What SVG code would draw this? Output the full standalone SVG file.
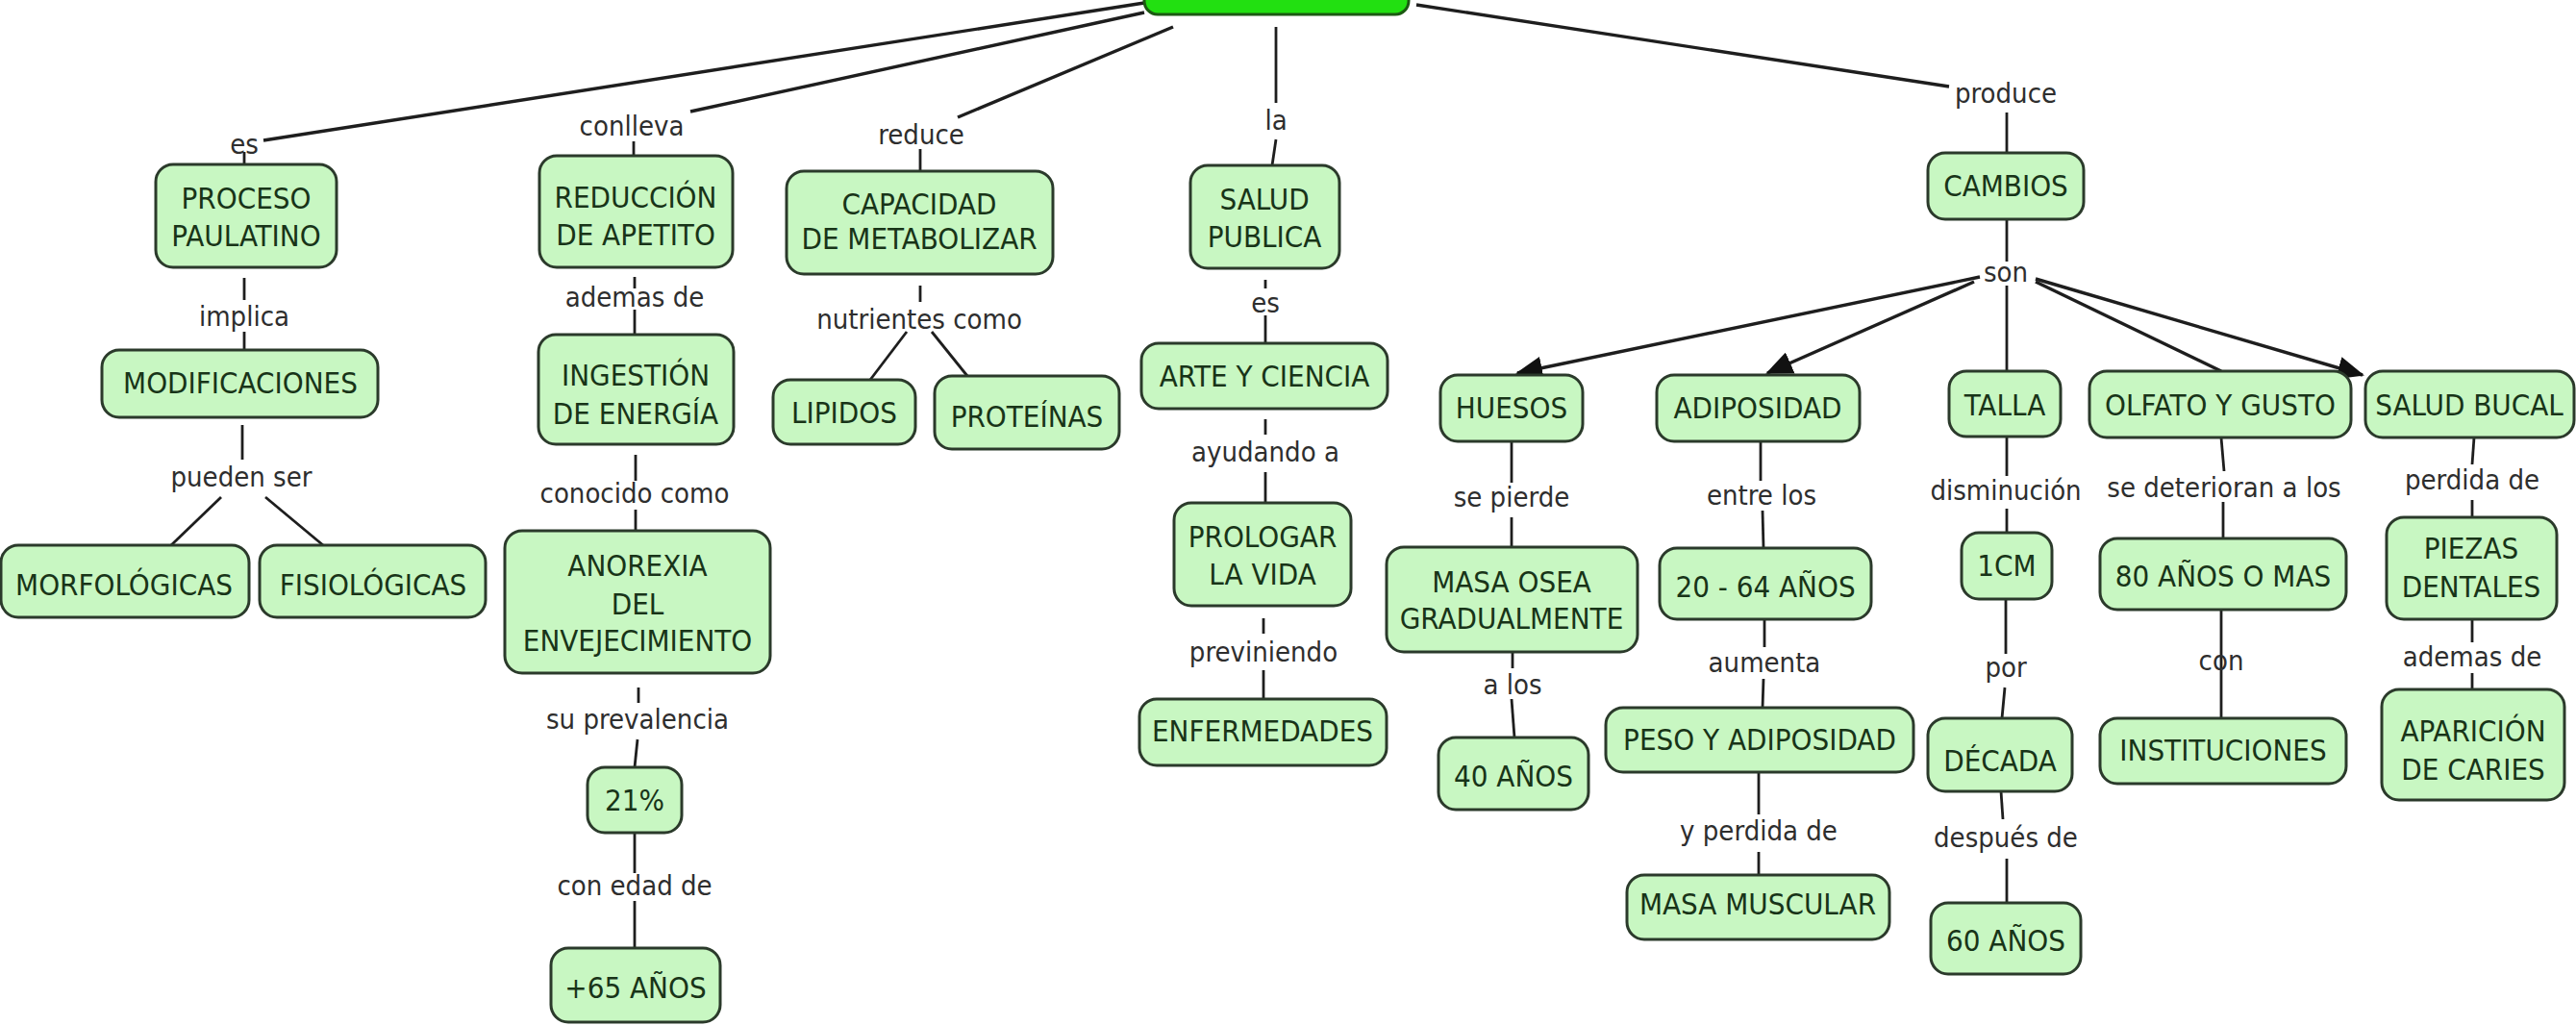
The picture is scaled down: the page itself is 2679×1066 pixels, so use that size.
<svg xmlns="http://www.w3.org/2000/svg" width="2679" height="1066" viewBox="0 0 2679 1066">
<style>
.n rect{fill:#c8f7c2;stroke:#2b3a2b;stroke-width:3}
.n text{font-family:"DejaVu Sans Condensed","DejaVu Sans",sans-serif;font-stretch:condensed;font-size:31px;fill:#183418;text-anchor:middle}
.l{font-family:"DejaVu Sans Condensed","DejaVu Sans",sans-serif;font-stretch:condensed;font-size:29px;fill:#2e2e2e;text-anchor:middle}
#connectors path{fill:none;stroke:#1e1e1e;stroke-width:2.8}
#connectors path.t{stroke-width:3.4}
#root rect{fill:#22e011;stroke:#1c5a12;stroke-width:3}
</style>
<defs>
<marker id="arr" markerUnits="userSpaceOnUse" markerWidth="28" markerHeight="24" refX="26" refY="12" orient="auto">
<path d="M0,0 L28,12 L0,24 Z" fill="#111"/>
</marker>
</defs>
<rect width="2679" height="1066" fill="#ffffff"/>
<g id="connectors">
<path class="t" d="M1190,3 L274,146"/>
<path class="t" d="M1190,13 L718,116"/>
<path class="t" d="M1220,28 L996,122"/>
<path d="M1327,28 L1327,107"/>
<path class="t" d="M1473,5 L2027,90"/>
<path d="M254,158 L254,171"/>
<path d="M659,147 L659,162"/>
<path d="M957,155 L957,178"/>
<path d="M1327,145 L1323,172"/>
<path d="M2087,117 L2087,159"/>
<path d="M254,289 L254,312"/>
<path d="M254,345 L254,364"/>
<path d="M252,442 L252,478"/>
<path d="M230,517 L178,567"/>
<path d="M276,517 L336,567"/>
<path d="M660,288 L660,300"/>
<path d="M660,322 L660,348"/>
<path d="M661,473 L661,500"/>
<path d="M661,530 L661,552"/>
<path d="M664,715 L664,731"/>
<path d="M663,769 L660,798"/>
<path d="M660,866 L660,908"/>
<path d="M660,937 L660,986"/>
<path d="M957,297 L957,314"/>
<path d="M943,345 L905,395"/>
<path d="M969,345 L1006,391"/>
<path d="M1316,291 L1316,300"/>
<path d="M1316,328 L1316,357"/>
<path d="M1316,436 L1316,452"/>
<path d="M1316,491 L1316,523"/>
<path d="M1314,643 L1314,659"/>
<path d="M1314,697 L1314,727"/>
<path d="M2087,228 L2087,272"/>
<path class="t" d="M2059,288 L1578,388" marker-end="url(#arr)"/>
<path class="t" d="M2053,293 L1838,388" marker-end="url(#arr)"/>
<path d="M2087,297 L2087,386"/>
<path class="t" d="M2117,293 L2310,386"/>
<path class="t" d="M2117,290 L2457,390" marker-end="url(#arr)"/>
<path d="M1572,459 L1572,502"/>
<path d="M1572,538 L1572,569"/>
<path d="M1573,678 L1573,695"/>
<path d="M1572,727 L1575,767"/>
<path d="M1831,459 L1831,500"/>
<path d="M1833,531 L1834,570"/>
<path d="M1835,644 L1835,673"/>
<path d="M1834,706 L1833,736"/>
<path d="M1829,803 L1829,847"/>
<path d="M1829,886 L1829,910"/>
<path d="M2087,452 L2087,495"/>
<path d="M2087,529 L2087,554"/>
<path d="M2086,623 L2086,680"/>
<path d="M2085,715 L2082,747"/>
<path d="M2081,823 L2083,852"/>
<path d="M2087,893 L2087,939"/>
<path d="M2310,455 L2313,490"/>
<path d="M2312,522 L2312,560"/>
<path d="M2310,634 L2310,747"/>
<path d="M2573,455 L2571,483"/>
<path d="M2571,520 L2571,538"/>
<path d="M2571,644 L2571,668"/>
<path d="M2571,700 L2571,717"/>
</g>
<g id="labels">
<text class="l" x="254" y="160">es</text>
<text class="l" x="657" y="141">conlleva</text>
<text class="l" x="958" y="150">reduce</text>
<text class="l" x="1327" y="135">la</text>
<text class="l" x="2086" y="107">produce</text>
<text class="l" x="254" y="339">implica</text>
<text class="l" x="251" y="506">pueden ser</text>
<text class="l" x="660" y="319">ademas de</text>
<text class="l" x="660" y="523">conocido como</text>
<text class="l" x="663" y="758">su prevalencia</text>
<text class="l" x="660" y="931">con edad de</text>
<text class="l" x="956" y="342">nutrientes como</text>
<text class="l" x="1316" y="325">es</text>
<text class="l" x="1316" y="480">ayudando a</text>
<text class="l" x="1314" y="688">previniendo</text>
<text class="l" x="2086" y="293">son</text>
<text class="l" x="1572" y="527">se pierde</text>
<text class="l" x="1832" y="525">entre los</text>
<text class="l" x="2086" y="520">disminución</text>
<text class="l" x="2313" y="517">se deterioran a los</text>
<text class="l" x="2571" y="509">perdida de</text>
<text class="l" x="1573" y="722">a los</text>
<text class="l" x="1835" y="699">aumenta</text>
<text class="l" x="1829" y="874">y perdida de</text>
<text class="l" x="2086" y="704">por</text>
<text class="l" x="2086" y="881">después de</text>
<text class="l" x="2310" y="697">con</text>
<text class="l" x="2571" y="693">ademas de</text>
</g>
<g id="root"><rect x="1190" y="-30" width="275" height="45" rx="14"/></g>
<g id="proceso" class="n"><rect x="162" y="171" width="188" height="107" rx="18"/><text x="256" y="217">PROCESO</text><text x="256" y="256">PAULATINO</text></g>
<g id="modificaciones" class="n"><rect x="106" y="364" width="287" height="70" rx="18"/><text x="250" y="409">MODIFICACIONES</text></g>
<g id="morfologicas" class="n"><rect x="1" y="567" width="258" height="75" rx="18"/><text x="129" y="619">MORFOLÓGICAS</text></g>
<g id="fisiologicas" class="n"><rect x="270" y="567" width="235" height="75" rx="18"/><text x="388" y="619">FISIOLÓGICAS</text></g>
<g id="reduccion" class="n"><rect x="561" y="162" width="201" height="116" rx="18"/><text x="661" y="216">REDUCCIÓN</text><text x="661" y="255">DE APETITO</text></g>
<g id="ingestion" class="n"><rect x="560" y="348" width="203" height="114" rx="18"/><text x="661" y="401">INGESTIÓN</text><text x="661" y="441">DE ENERGÍA</text></g>
<g id="anorexia" class="n"><rect x="525" y="552" width="276" height="148" rx="18"/><text x="663" y="599">ANOREXIA</text><text x="663" y="639">DEL</text><text x="663" y="677">ENVEJECIMIENTO</text></g>
<g id="p21" class="n"><rect x="611" y="798" width="98" height="68" rx="18"/><text x="660" y="843">21%</text></g>
<g id="p65" class="n"><rect x="573" y="986" width="176" height="77" rx="18"/><text x="661" y="1038">+65 AÑOS</text></g>
<g id="capacidad" class="n"><rect x="818" y="178" width="277" height="107" rx="18"/><text x="956" y="223">CAPACIDAD</text><text x="956" y="259">DE METABOLIZAR</text></g>
<g id="lipidos" class="n"><rect x="804" y="395" width="148" height="67" rx="18"/><text x="878" y="440">LIPIDOS</text></g>
<g id="proteinas" class="n"><rect x="972" y="391" width="192" height="76" rx="18"/><text x="1068" y="444">PROTEÍNAS</text></g>
<g id="saludpublica" class="n"><rect x="1238" y="172" width="155" height="107" rx="18"/><text x="1315" y="218">SALUD</text><text x="1315" y="257">PUBLICA</text></g>
<g id="arte" class="n"><rect x="1187" y="357" width="256" height="68" rx="18"/><text x="1315" y="402">ARTE Y CIENCIA</text></g>
<g id="prologar" class="n"><rect x="1221" y="523" width="184" height="107" rx="18"/><text x="1313" y="569">PROLOGAR</text><text x="1313" y="608">LA VIDA</text></g>
<g id="enfermedades" class="n"><rect x="1185" y="727" width="257" height="69" rx="18"/><text x="1313" y="771">ENFERMEDADES</text></g>
<g id="cambios" class="n"><rect x="2005" y="159" width="162" height="69" rx="18"/><text x="2086" y="204">CAMBIOS</text></g>
<g id="huesos" class="n"><rect x="1498" y="390" width="148" height="69" rx="18"/><text x="1572" y="435">HUESOS</text></g>
<g id="adiposidad" class="n"><rect x="1723" y="390" width="211" height="69" rx="18"/><text x="1828" y="435">ADIPOSIDAD</text></g>
<g id="talla" class="n"><rect x="2027" y="386" width="116" height="68" rx="18"/><text x="2085" y="432">TALLA</text></g>
<g id="olfato" class="n"><rect x="2173" y="386" width="272" height="69" rx="18"/><text x="2309" y="432">OLFATO Y GUSTO</text></g>
<g id="saludbucal" class="n"><rect x="2460" y="386" width="217" height="69" rx="18"/><text x="2568" y="432">SALUD BUCAL</text></g>
<g id="masaosea" class="n"><rect x="1442" y="569" width="261" height="109" rx="18"/><text x="1572" y="616">MASA OSEA</text><text x="1572" y="654">GRADUALMENTE</text></g>
<g id="a40" class="n"><rect x="1496" y="767" width="156" height="75" rx="18"/><text x="1574" y="818">40 AÑOS</text></g>
<g id="a2064" class="n"><rect x="1726" y="570" width="220" height="74" rx="18"/><text x="1836" y="621">20 - 64 AÑOS</text></g>
<g id="peso" class="n"><rect x="1670" y="736" width="320" height="67" rx="18"/><text x="1830" y="780">PESO Y ADIPOSIDAD</text></g>
<g id="masamuscular" class="n"><rect x="1692" y="910" width="273" height="67" rx="18"/><text x="1828" y="951">MASA MUSCULAR</text></g>
<g id="cm1" class="n"><rect x="2040" y="554" width="94" height="69" rx="18"/><text x="2087" y="599">1CM</text></g>
<g id="decada" class="n"><rect x="2005" y="747" width="150" height="76" rx="18"/><text x="2080" y="802">DÉCADA</text></g>
<g id="a60" class="n"><rect x="2008" y="939" width="156" height="74" rx="18"/><text x="2086" y="989">60 AÑOS</text></g>
<g id="a80" class="n"><rect x="2184" y="560" width="256" height="74" rx="18"/><text x="2312" y="610">80 AÑOS O MAS</text></g>
<g id="instituciones" class="n"><rect x="2184" y="747" width="256" height="68" rx="18"/><text x="2312" y="791">INSTITUCIONES</text></g>
<g id="piezas" class="n"><rect x="2482" y="538" width="177" height="106" rx="18"/><text x="2570" y="581">PIEZAS</text><text x="2570" y="621">DENTALES</text></g>
<g id="aparicion" class="n"><rect x="2477" y="717" width="190" height="115" rx="18"/><text x="2572" y="771">APARICIÓN</text><text x="2572" y="811">DE CARIES</text></g>
</svg>
